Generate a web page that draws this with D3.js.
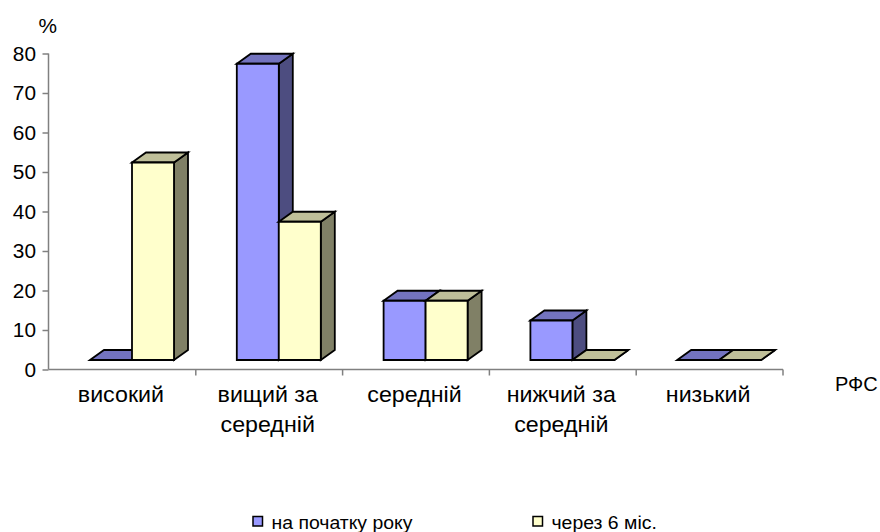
<!DOCTYPE html>
<html>
<head>
<meta charset="utf-8">
<script src="https://cdn.jsdelivr.net/npm/d3@7"></script>
<style>
  html, body { margin: 0; padding: 0; background: #fff; }
  svg { display: block; font-family: "Liberation Sans", Arial, sans-serif; }
</style>
</head>
<body>
<svg id="chart" width="880" height="532"></svg>
<script>
// Levels of physical fitness (РФС), share of pupils, %
const categories = [["високий"], ["вищий за", "середній"], ["середній"], ["нижчий за", "середній"], ["низький"]];
const seriesNames = ["на початку року", "через 6 міс."];
const startOfYear = [0, 75, 15, 10, 0];
const after6Months = [50, 35, 15, 0, 0];
const yTicks = [0, 10, 20, 30, 40, 50, 60, 70, 80];

const seriesValues = [startOfYear, after6Months];
const faceColors = [
  { front: "#9999FF", top: "#7373BF", side: "#4D4D80" },
  { front: "#FFFFCC", top: "#BFBF99", side: "#808066" }
];

const svg = d3.select("#chart");

const x = d3.scaleBand().domain(d3.range(categories.length)).range([49, 783]).padding(0);
const inner = d3.scaleBand().domain(d3.range(seriesNames.length)).range([41, 125]).padding(0);
const y = d3.scaleLinear().domain([0, 80]).range([369.5, 53.5]);

const floorLift = 9.5;  // bars stand on the floor a little behind the axis line
const depthX = 14, depthY = 10;

function wideText(g, tx, ty, str, size, anchor, sx) {
  return g.append("text")
    .attr("transform", `translate(${tx},${ty}) scale(${sx || 1},1)`)
    .attr("text-anchor", anchor || "start")
    .attr("font-size", size)
    .attr("fill", "#000")
    .text(str);
}

// Y axis
const yAxis = svg.append("g").attr("transform", "translate(48.5,0)");
yAxis.call(d3.axisLeft(y).tickValues(yTicks).tickSize(6).tickFormat(""));
yAxis.select(".domain").attr("stroke", "#808080").attr("stroke-width", 1.5).attr("d", `M0,${y(80)}V${y(0)}`);
yAxis.selectAll(".tick line").attr("stroke", "#808080").attr("stroke-width", 1.5);
yTicks.forEach(t => wideText(svg, 36, y(t) + 7, String(t), 20, "end", 1.04));
wideText(svg, 38.5, 33, "%", 20, "start", 1.04);

// X axis with category separators
const xAxis = svg.append("g").attr("transform", `translate(0,${y(0)})`);
xAxis.append("line").attr("x1", 48.5).attr("x2", 783).attr("y1", 0).attr("y2", 0)
  .attr("stroke", "#808080").attr("stroke-width", 1.5);
const bounds = d3.range(categories.length + 1).map(i => i < categories.length ? x(i) : x(i - 1) + x.bandwidth());
xAxis.selectAll("line.sep").data(bounds.slice(1)).join("line").attr("class", "sep")
  .attr("x1", d => d).attr("x2", d => d).attr("y1", 0).attr("y2", 6)
  .attr("stroke", "#808080").attr("stroke-width", 1.5);

// Category labels
categories.forEach((lines, i) => {
  const cx = x(i) + x.bandwidth() / 2 - 1.5;
  lines.forEach((ln, k) => wideText(svg, cx, 402 + k * 30, ln, 21.5, "middle", 1.08));
});
wideText(svg, 835, 391, "РФС", 20, "start", 1.0);

// 3D columns
const bars = svg.append("g").attr("stroke", "#000").attr("stroke-width", 1.8).attr("stroke-linejoin", "miter");
categories.forEach((_, i) => {
  seriesValues.forEach((vals, s) => {
    const v = vals[i];
    const x0 = x(i) + inner(s);
    const x1 = x0 + inner.bandwidth();
    const yb = y(0) - floorLift;
    const yt = y(v) - floorLift;
    const c = faceColors[s];
    const g = bars.append("g");
    // side face
    g.append("path").attr("fill", c.side)
      .attr("d", `M${x1},${yt}L${x1 + depthX},${yt - depthY}L${x1 + depthX},${yb - depthY}L${x1},${yb}Z`);
    // top face
    g.append("path").attr("fill", c.top)
      .attr("d", `M${x0},${yt}L${x0 + depthX},${yt - depthY}L${x1 + depthX},${yt - depthY}L${x1},${yt}Z`);
    // front face
    g.append("path").attr("fill", c.front)
      .attr("d", `M${x0},${yt}L${x1},${yt}L${x1},${yb}L${x0},${yb}Z`);
  });
});

// Legend
const legendX = [253, 533];
seriesNames.forEach((name, s) => {
  svg.append("rect").attr("x", legendX[s]).attr("y", 516.5).attr("width", 9.5).attr("height", 9.5)
    .attr("fill", faceColors[s].front).attr("stroke", "#000").attr("stroke-width", 1.5);
  wideText(svg, legendX[s] + 18.5, 529, name, 18.5, "start", 1.05);
});
</script>
</body>
</html>
